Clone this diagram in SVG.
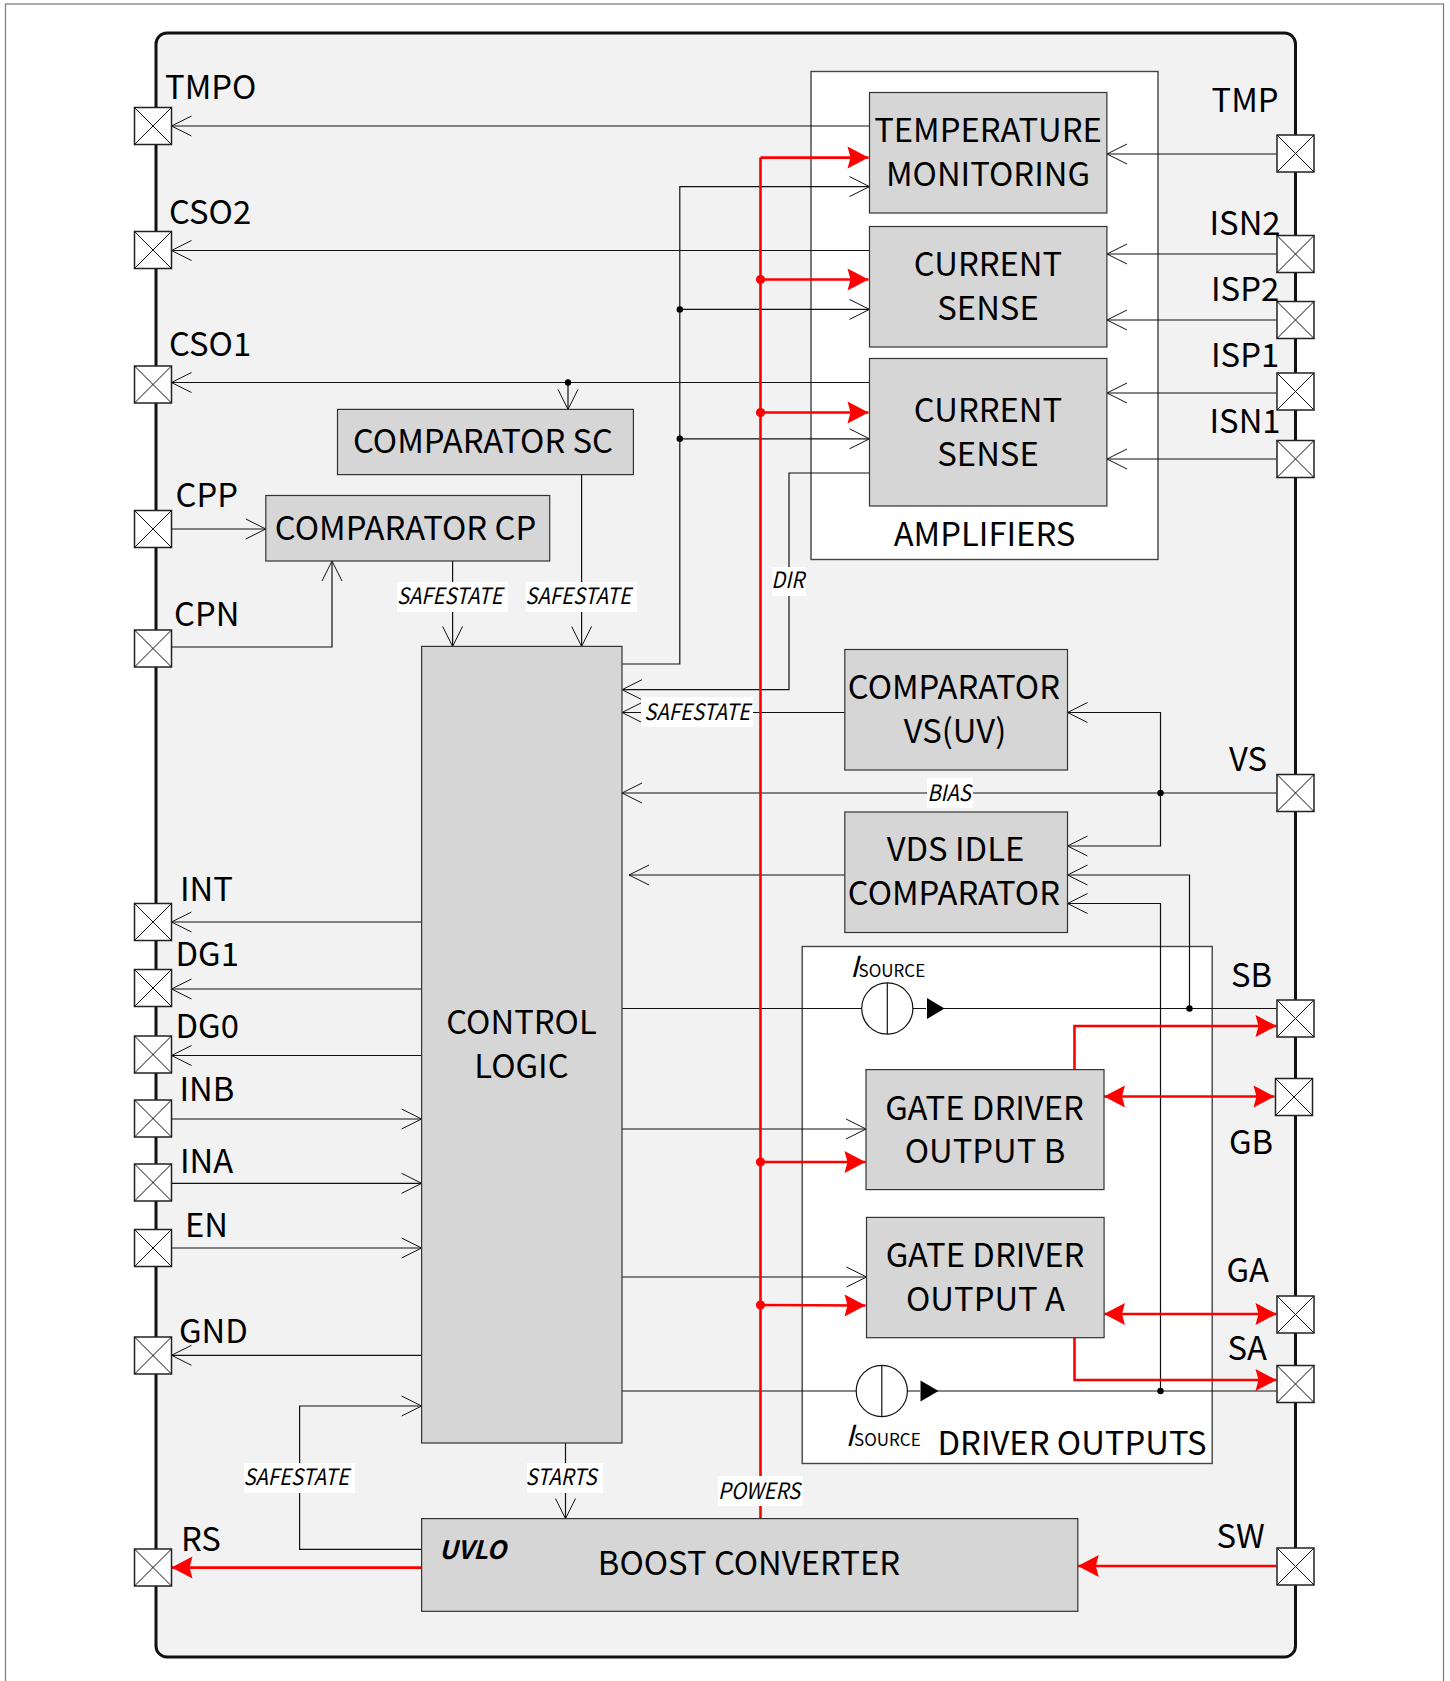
<svg xmlns="http://www.w3.org/2000/svg" width="1450" height="1681" viewBox="0 0 1450 1681">
<style>
text{font-family:"Noto Sans CJK SC","Noto Sans",sans-serif;fill:#000}
.t{font-size:32.8px;text-anchor:middle}
.p{font-size:32.8px}
.s{font-size:22.4px;font-style:italic;text-anchor:middle;transform-box:fill-box;transform-origin:center;transform:scaleX(.905)}
.b{fill:#d6d6d6;stroke:#333;stroke-width:1.2}
.c{fill:#fff;stroke:#444;stroke-width:1.4}
.w{fill:none;stroke:#111;stroke-width:1.2}
.a{marker-end:url(#open)}
.r{fill:none;stroke:#f00;stroke-width:2.6;marker-end:url(#red)}
.bg{fill:#fff;stroke:none}
.pd{fill:#fff;stroke:#222;stroke-width:1.5}
.px{stroke:#111;stroke-width:1;fill:none}
</style>
<defs>
<marker id="open" markerUnits="userSpaceOnUse" markerWidth="24" markerHeight="24" refX="20.5" refY="11" orient="auto" overflow="visible"><path d="M0.5,1 L20.5,11 L0.5,21" fill="none" stroke="#111" stroke-width="1"/></marker>
<marker id="red" markerUnits="userSpaceOnUse" markerWidth="24" markerHeight="26" refX="21" refY="12" orient="auto-start-reverse" overflow="visible"><path d="M0,1 L21,12 L0,23 L3,12 Z" fill="#f00"/></marker>
<g id="pad"><rect class="pd" x="-18.5" y="-18.5" width="37" height="37"/><path class="px" d="M-18.5,-18.5 L18.5,18.5 M18.5,-18.5 L-18.5,18.5"/></g>
</defs>
<rect x="5.5" y="4" width="1438" height="1700" fill="#fff" stroke="#777" stroke-width="1.2"/>
<rect id="chip" x="156" y="33" width="1139.5" height="1624" rx="11" fill="#f2f2f2" stroke="#111" stroke-width="3"/>
<g id="amplifiers"><rect class="c" x="811" y="71.5" width="347" height="488"/><text class="t" x="984.5" y="546">AMPLIFIERS</text></g>
<g id="driver-outputs"><rect class="c" x="802.2" y="946.5" width="410" height="517"/><text class="p" x="937.5" y="1454.5">DRIVER OUTPUTS</text></g>
<g id="connectors">
<path class="w a" d="M869.5,126 H171.5"/>
<path class="w a" d="M869.5,250.5 H171.5"/>
<path class="w a" d="M869.5,382.5 H171.5"/>
<path class="w a" d="M568,382.5 V409.4"/>
<circle cx="568" cy="382.5" r="3.2"/>
<path class="w a" d="M171.5,529 H265.8"/>
<path class="w a" d="M171.5,647 H332 V561"/>
<path class="w a" d="M452.6,561 V646.4"/>
<path class="w a" d="M581.6,474.6 V646.4"/>
<path class="w a" d="M622,664 H679.8 V186.6 H869.5"/>
<path class="w a" d="M679.8,309.4 H869.5"/>
<path class="w a" d="M679.8,438.8 H869.5"/>
<circle cx="679.8" cy="309.4" r="3.2"/><circle cx="679.8" cy="438.8" r="3.2"/>
<path class="w a" d="M869.5,473 H789 V689.7 H622"/>
<path class="w a" d="M845,712.5 H622"/>
<path class="w a" d="M1276.5,793 H622"/>
<path class="w a" d="M1160.5,793 V712.5 H1067.5"/>
<path class="w a" d="M1160.5,793 V846 H1067.5"/>
<circle cx="1160.5" cy="793" r="3.2"/>
<path class="w a" d="M845,875 H629"/>
<path class="w a" d="M1189.5,1008.5 V875 H1067.5"/>
<path class="w a" d="M1160.5,1391 V903.5 H1067.5"/>
<path class="w" d="M622,1008.5 H926 M943,1008.5 H1276.5"/>
<path class="w" d="M622,1391 H920 M937,1391 H1276.5"/>
<circle cx="1189.5" cy="1008.5" r="3.2"/><circle cx="1160.5" cy="1391" r="3.2"/>
<path class="w a" d="M622,1129 H866"/>
<path class="w a" d="M622,1277 H866.5"/>
<path class="w a" d="M421.6,922 H171.5"/>
<path class="w a" d="M421.6,989 H171.5"/>
<path class="w a" d="M421.6,1055.5 H171.5"/>
<path class="w a" d="M171.5,1119 H421.6"/>
<path class="w a" d="M171.5,1183.3 H421.6"/>
<path class="w a" d="M171.5,1248 H421.6"/>
<path class="w a" d="M421.6,1355.3 H171.5"/>
<path class="w a" d="M421.6,1549.4 H299.6 V1406 H421.6"/>
<path class="w a" d="M565.5,1443 V1518.6"/>
<path class="w a" d="M1276.5,154 H1107"/>
<path class="w a" d="M1276.5,254 H1107"/>
<path class="w a" d="M1276.5,320 H1107"/>
<path class="w a" d="M1276.5,393 H1107"/>
<path class="w a" d="M1276.5,459 H1107"/>
<path class="r" style="marker-end:none" d="M760.5,1518.6 V157.6"/>
<path class="r" d="M760.5,157.6 H868.5"/>
<path class="r" d="M760.5,279.5 H868.5"/>
<path class="r" d="M760.5,412.5 H868.5"/>
<path class="r" d="M760.5,1162 H865.5"/>
<path class="r" d="M760.5,1305 L865.5,1305.5"/>
<circle cx="760.5" cy="279.5" r="4.6" fill="#f00"/><circle cx="760.5" cy="412.5" r="4.6" fill="#f00"/><circle cx="760.5" cy="1162" r="4.6" fill="#f00"/><circle cx="760.5" cy="1305" r="4.6" fill="#f00"/>
<path class="r" d="M1074.5,1069.6 V1026 H1276.5"/>
<path class="r" style="marker-start:url(#red)" d="M1104,1096.5 H1274.5"/>
<path class="r" style="marker-start:url(#red)" d="M1104,1314 H1276.5"/>
<path class="r" d="M1074.5,1337.7 V1380 H1276.5"/>
<path class="r" d="M1276.5,1566 H1077.8"/>
<path class="r" d="M421.6,1567.6 H171.5"/>
</g>
<g id="isource-top"><circle cx="887.3" cy="1008.5" r="25.6" fill="#fff" stroke="#111" stroke-width="1.2"/><path class="w" d="M887.3,983 V1034"/><polygon points="927,998 944.5,1008.5 927,1019"/><text x="850" y="977" font-size="29" font-style="italic">I</text><text x="858.5" y="977" font-size="17">SOURCE</text></g>
<g id="isource-bottom"><circle cx="881.8" cy="1391" r="25.6" fill="#fff" stroke="#111" stroke-width="1.2"/><path class="w" d="M881.8,1365.5 V1416.5"/><polygon points="920.5,1380.5 938.5,1391 920.5,1401.5"/><text x="845.5" y="1446" font-size="29" font-style="italic">I</text><text x="854" y="1446" font-size="17">SOURCE</text></g>
<g id="temperature"><rect class="b" x="869.5" y="92.5" width="237.4" height="120.5"/><text class="t" x="988" y="142">TEMPERATURE</text><text class="t" x="988" y="185.7">MONITORING</text></g>
<g id="current-sense-2"><rect class="b" x="869.5" y="226.5" width="237.4" height="120.5"/><text class="t" x="988" y="275.6">CURRENT</text><text class="t" x="988" y="319.6">SENSE</text></g>
<g id="current-sense-1"><rect class="b" x="869.5" y="358.5" width="237.4" height="147.5"/><text class="t" x="988" y="422">CURRENT</text><text class="t" x="988" y="466">SENSE</text></g>
<g id="comparator-sc"><rect class="b" x="337.5" y="409.4" width="295.9" height="65.2"/><text class="t" x="483" y="453">COMPARATOR SC</text></g>
<g id="comparator-cp"><rect class="b" x="265.8" y="495.5" width="283.9" height="65.5"/><text class="t" x="405.5" y="540">COMPARATOR CP</text></g>
<g id="comparator-vs"><rect class="b" x="844.8" y="649.5" width="222.7" height="120.5"/><text class="t" x="953.9" y="699">COMPARATOR</text><text class="t" x="955" y="743">VS(UV)</text></g>
<g id="vds-idle"><rect class="b" x="844.8" y="812" width="222.7" height="120.5"/><text class="t" x="955.5" y="860.7">VDS IDLE</text><text class="t" x="953.9" y="905">COMPARATOR</text></g>
<g id="gate-driver-b"><rect class="b" x="866" y="1069.6" width="238" height="120"/><text class="t" x="984.5" y="1119.6">GATE DRIVER</text><text class="t" x="985" y="1163">OUTPUT B</text></g>
<g id="gate-driver-a"><rect class="b" x="866.5" y="1217.4" width="237.6" height="120.3"/><text class="t" x="985" y="1267.4">GATE DRIVER</text><text class="t" x="985.5" y="1311">OUTPUT A</text></g>
<g id="control-logic"><rect class="b" x="421.6" y="646.4" width="200.4" height="796.6"/><text class="t" x="521.5" y="1034">CONTROL</text><text class="t" x="521.5" y="1077.7">LOGIC</text></g>
<g id="boost-converter"><rect class="b" x="421.6" y="1518.6" width="656.2" height="92.7"/><text x="439" y="1558.5" font-size="25.2" font-weight="700" font-style="italic">UVLO</text><text class="t" x="749" y="1574.5">BOOST CONVERTER</text></g>
<g id="labels">
<rect class="bg" x="397" y="582" width="111" height="30"/><text class="s" x="449.5" y="604.5">SAFESTATE</text>
<rect class="bg" x="526" y="582" width="111" height="30"/><text class="s" x="578" y="604.5">SAFESTATE</text>
<rect class="bg" x="772" y="567" width="34" height="29"/><text class="s" x="787.5" y="588.5">DIR</text>
<rect class="bg" x="641" y="697" width="112" height="30"/><text class="s" x="697" y="720">SAFESTATE</text>
<rect class="bg" x="927" y="778" width="46" height="30"/><text class="s" x="949" y="801">BIAS</text>
<rect class="bg" x="244" y="1463" width="111" height="30"/><text class="s" x="296" y="1485">SAFESTATE</text>
<rect class="bg" x="527" y="1463" width="76" height="30"/><text class="s" x="561" y="1485">STARTS</text>
<rect class="bg" x="718" y="1476" width="85" height="30"/><text class="s" x="759" y="1499">POWERS</text>
</g>
<g id="pin-TMPO"><use href="#pad" x="153" y="126"/><text class="p" x="165" y="99">TMPO</text></g>
<g id="pin-CSO2"><use href="#pad" x="153" y="250"/><text class="p" x="169" y="223.5">CSO2</text></g>
<g id="pin-CSO1"><use href="#pad" x="153" y="384.5"/><text class="p" x="169" y="355.5">CSO1</text></g>
<g id="pin-CPP"><use href="#pad" x="153" y="529"/><text class="p" x="175.5" y="507">CPP</text></g>
<g id="pin-CPN"><use href="#pad" x="153" y="648.5"/><text class="p" x="174" y="626">CPN</text></g>
<g id="pin-INT"><use href="#pad" x="153" y="922"/><text class="p" x="180" y="900.5">INT</text></g>
<g id="pin-DG1"><use href="#pad" x="153" y="988"/><text class="p" x="175.5" y="966">DG1</text></g>
<g id="pin-DG0"><use href="#pad" x="153" y="1054.5"/><text class="p" x="175.5" y="1038">DG0</text></g>
<g id="pin-INB"><use href="#pad" x="153" y="1118.5"/><text class="p" x="179.5" y="1101">INB</text></g>
<g id="pin-INA"><use href="#pad" x="153" y="1182.5"/><text class="p" x="180" y="1172.5">INA</text></g>
<g id="pin-EN"><use href="#pad" x="153" y="1248"/><text class="p" x="185" y="1237">EN</text></g>
<g id="pin-GND"><use href="#pad" x="153" y="1355.5"/><text class="p" x="179" y="1342.5">GND</text></g>
<g id="pin-RS"><use href="#pad" x="153" y="1567.5"/><text class="p" x="181" y="1550.5">RS</text></g>
<g id="pin-TMP"><use href="#pad" x="1295.5" y="153.5"/><text class="p" x="1211.5" y="112">TMP</text></g>
<g id="pin-ISN2"><use href="#pad" x="1295.5" y="254"/><text class="p" x="1209.5" y="235">ISN2</text></g>
<g id="pin-ISP2"><use href="#pad" x="1295.5" y="320"/><text class="p" x="1211" y="300.5">ISP2</text></g>
<g id="pin-ISP1"><use href="#pad" x="1295.5" y="391.5"/><text class="p" x="1211" y="367">ISP1</text></g>
<g id="pin-ISN1"><use href="#pad" x="1295.5" y="459"/><text class="p" x="1209.5" y="432.6">ISN1</text></g>
<g id="pin-VS"><use href="#pad" x="1295.5" y="793"/><text class="p" x="1229" y="771">VS</text></g>
<g id="pin-SB"><use href="#pad" x="1295.5" y="1018.5"/><text class="p" x="1231" y="987">SB</text></g>
<g id="pin-GB"><use href="#pad" x="1294" y="1097"/><text class="p" x="1229" y="1154">GB</text></g>
<g id="pin-GA"><use href="#pad" x="1295.5" y="1314.5"/><text class="p" x="1226.6" y="1282">GA</text></g>
<g id="pin-SA"><use href="#pad" x="1295.5" y="1384"/><text class="p" x="1227.5" y="1359.5">SA</text></g>
<g id="pin-SW"><use href="#pad" x="1295.5" y="1566.5"/><text class="p" x="1216.4" y="1547.5">SW</text></g>
</svg>
